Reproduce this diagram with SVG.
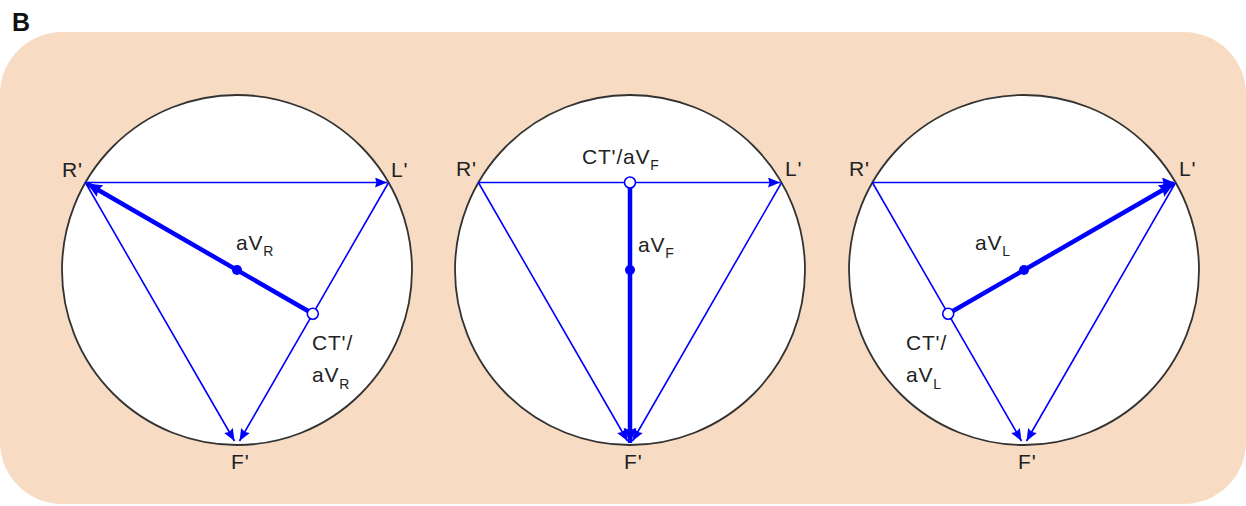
<svg xmlns="http://www.w3.org/2000/svg" width="1246" height="506" viewBox="0 0 1246 506">
<style>
  .lbl{font-family:"Liberation Sans",Arial,sans-serif;font-size:21px;letter-spacing:0.8px;fill:#222}
  .sub{font-size:14px;letter-spacing:0}
  .ttl{font-family:"Liberation Sans",Arial,sans-serif;font-size:25px;font-weight:bold;fill:#111}
  .ring{fill:#fff;stroke:#333;stroke-width:1.8}
  .thin{stroke:#0000ff;stroke-width:1.6;fill:none}
  .thick{stroke:#0000ff;stroke-width:4.5;fill:none}
  .dot{fill:#0000ff}
  .open{fill:#fff;stroke:#0000ff;stroke-width:1.6}
</style>
<defs>
  <marker id="ah" markerUnits="userSpaceOnUse" markerWidth="14" markerHeight="12" refX="12" refY="5" orient="auto">
    <path d="M0,0 L12,5 L0,10 L1.5,5 Z" fill="#0000ff"/>
  </marker>
  <marker id="ahk" markerUnits="userSpaceOnUse" markerWidth="18" markerHeight="14" refX="15" refY="7" orient="auto">
    <path d="M0,0.5 L15,7 L0,13.5 L2,7 Z" fill="#0000ff"/>
  </marker>
</defs>
<rect id="background" x="0" y="32" width="1246" height="472" rx="62" ry="62" fill="#f8dbc3"/>
<text id="title" class="ttl" x="12" y="31">B</text>

<!-- Panel 1: aVR -->
<g id="panel1">
  <circle id="p1-ring" class="ring" cx="237" cy="270" r="175"/>
  <g id="p1-connectors">
    <line class="thin" x1="85.4" y1="182.5" x2="387" y2="182.5" marker-end="url(#ah)"/>
    <line class="thin" x1="85.4" y1="182.5" x2="234.5" y2="441" marker-end="url(#ah)"/>
    <line class="thin" x1="388.6" y1="182.5" x2="239.5" y2="441" marker-end="url(#ah)"/>
    <line class="thick" x1="312.8" y1="313.8" x2="87" y2="183.5" marker-end="url(#ahk)"/>
  </g>
  <g id="p1-R"><text class="lbl" x="62" y="177">R'</text></g>
  <g id="p1-L"><text class="lbl" x="391" y="177">L'</text></g>
  <g id="p1-F"><text class="lbl" x="231" y="469">F'</text></g>
  <g id="p1-center"><circle class="dot" cx="237" cy="270" r="5"/>
    <text class="lbl" x="236" y="250">aV<tspan class="sub" dy="6">R</tspan></text></g>
  <g id="p1-CT"><circle class="open" cx="312.8" cy="313.8" r="5.5"/>
    <text class="lbl" x="312" y="350">CT'/</text>
    <text class="lbl" x="312" y="382">aV<tspan class="sub" dy="7">R</tspan></text></g>
</g>

<!-- Panel 2: aVF -->
<g id="panel2">
  <circle id="p2-ring" class="ring" cx="630" cy="270" r="175"/>
  <g id="p2-connectors">
    <line class="thin" x1="478.4" y1="182.5" x2="780" y2="182.5" marker-end="url(#ah)"/>
    <line class="thin" x1="478.4" y1="182.5" x2="627.5" y2="441" marker-end="url(#ah)"/>
    <line class="thin" x1="781.6" y1="182.5" x2="632.5" y2="441" marker-end="url(#ah)"/>
    <line class="thick" x1="630" y1="182.5" x2="630" y2="443" marker-end="url(#ahk)"/>
  </g>
  <g id="p2-R"><text class="lbl" x="456" y="176">R'</text></g>
  <g id="p2-L"><text class="lbl" x="785" y="176">L'</text></g>
  <g id="p2-F"><text class="lbl" x="624" y="469">F'</text></g>
  <g id="p2-center"><circle class="dot" cx="630" cy="270" r="5"/>
    <text class="lbl" x="638" y="252">aV<tspan class="sub" dy="6">F</tspan></text></g>
  <g id="p2-CT"><circle class="open" cx="630" cy="182.5" r="5.5"/>
    <text class="lbl" x="582" y="164">CT'/aV<tspan class="sub" dy="6">F</tspan></text></g>
</g>

<!-- Panel 3: aVL -->
<g id="panel3">
  <circle id="p3-ring" class="ring" cx="1024" cy="270" r="175"/>
  <g id="p3-connectors">
    <line class="thin" x1="872.4" y1="182.5" x2="1174" y2="182.5" marker-end="url(#ah)"/>
    <line class="thin" x1="872.4" y1="182.5" x2="1021.5" y2="441" marker-end="url(#ah)"/>
    <line class="thin" x1="1175.6" y1="182.5" x2="1026.5" y2="441" marker-end="url(#ah)"/>
    <line class="thick" x1="948.2" y1="313.8" x2="1174" y2="183.5" marker-end="url(#ahk)"/>
  </g>
  <g id="p3-R"><text class="lbl" x="849" y="176">R'</text></g>
  <g id="p3-L"><text class="lbl" x="1179" y="176">L'</text></g>
  <g id="p3-F"><text class="lbl" x="1018" y="469">F'</text></g>
  <g id="p3-center"><circle class="dot" cx="1024" cy="270" r="5"/>
    <text class="lbl" x="975" y="250">aV<tspan class="sub" dy="6">L</tspan></text></g>
  <g id="p3-CT"><circle class="open" cx="948.2" cy="313.8" r="5.5"/>
    <text class="lbl" x="906" y="350">CT'/</text>
    <text class="lbl" x="906" y="382">aV<tspan class="sub" dy="7">L</tspan></text></g>
</g>
</svg>
